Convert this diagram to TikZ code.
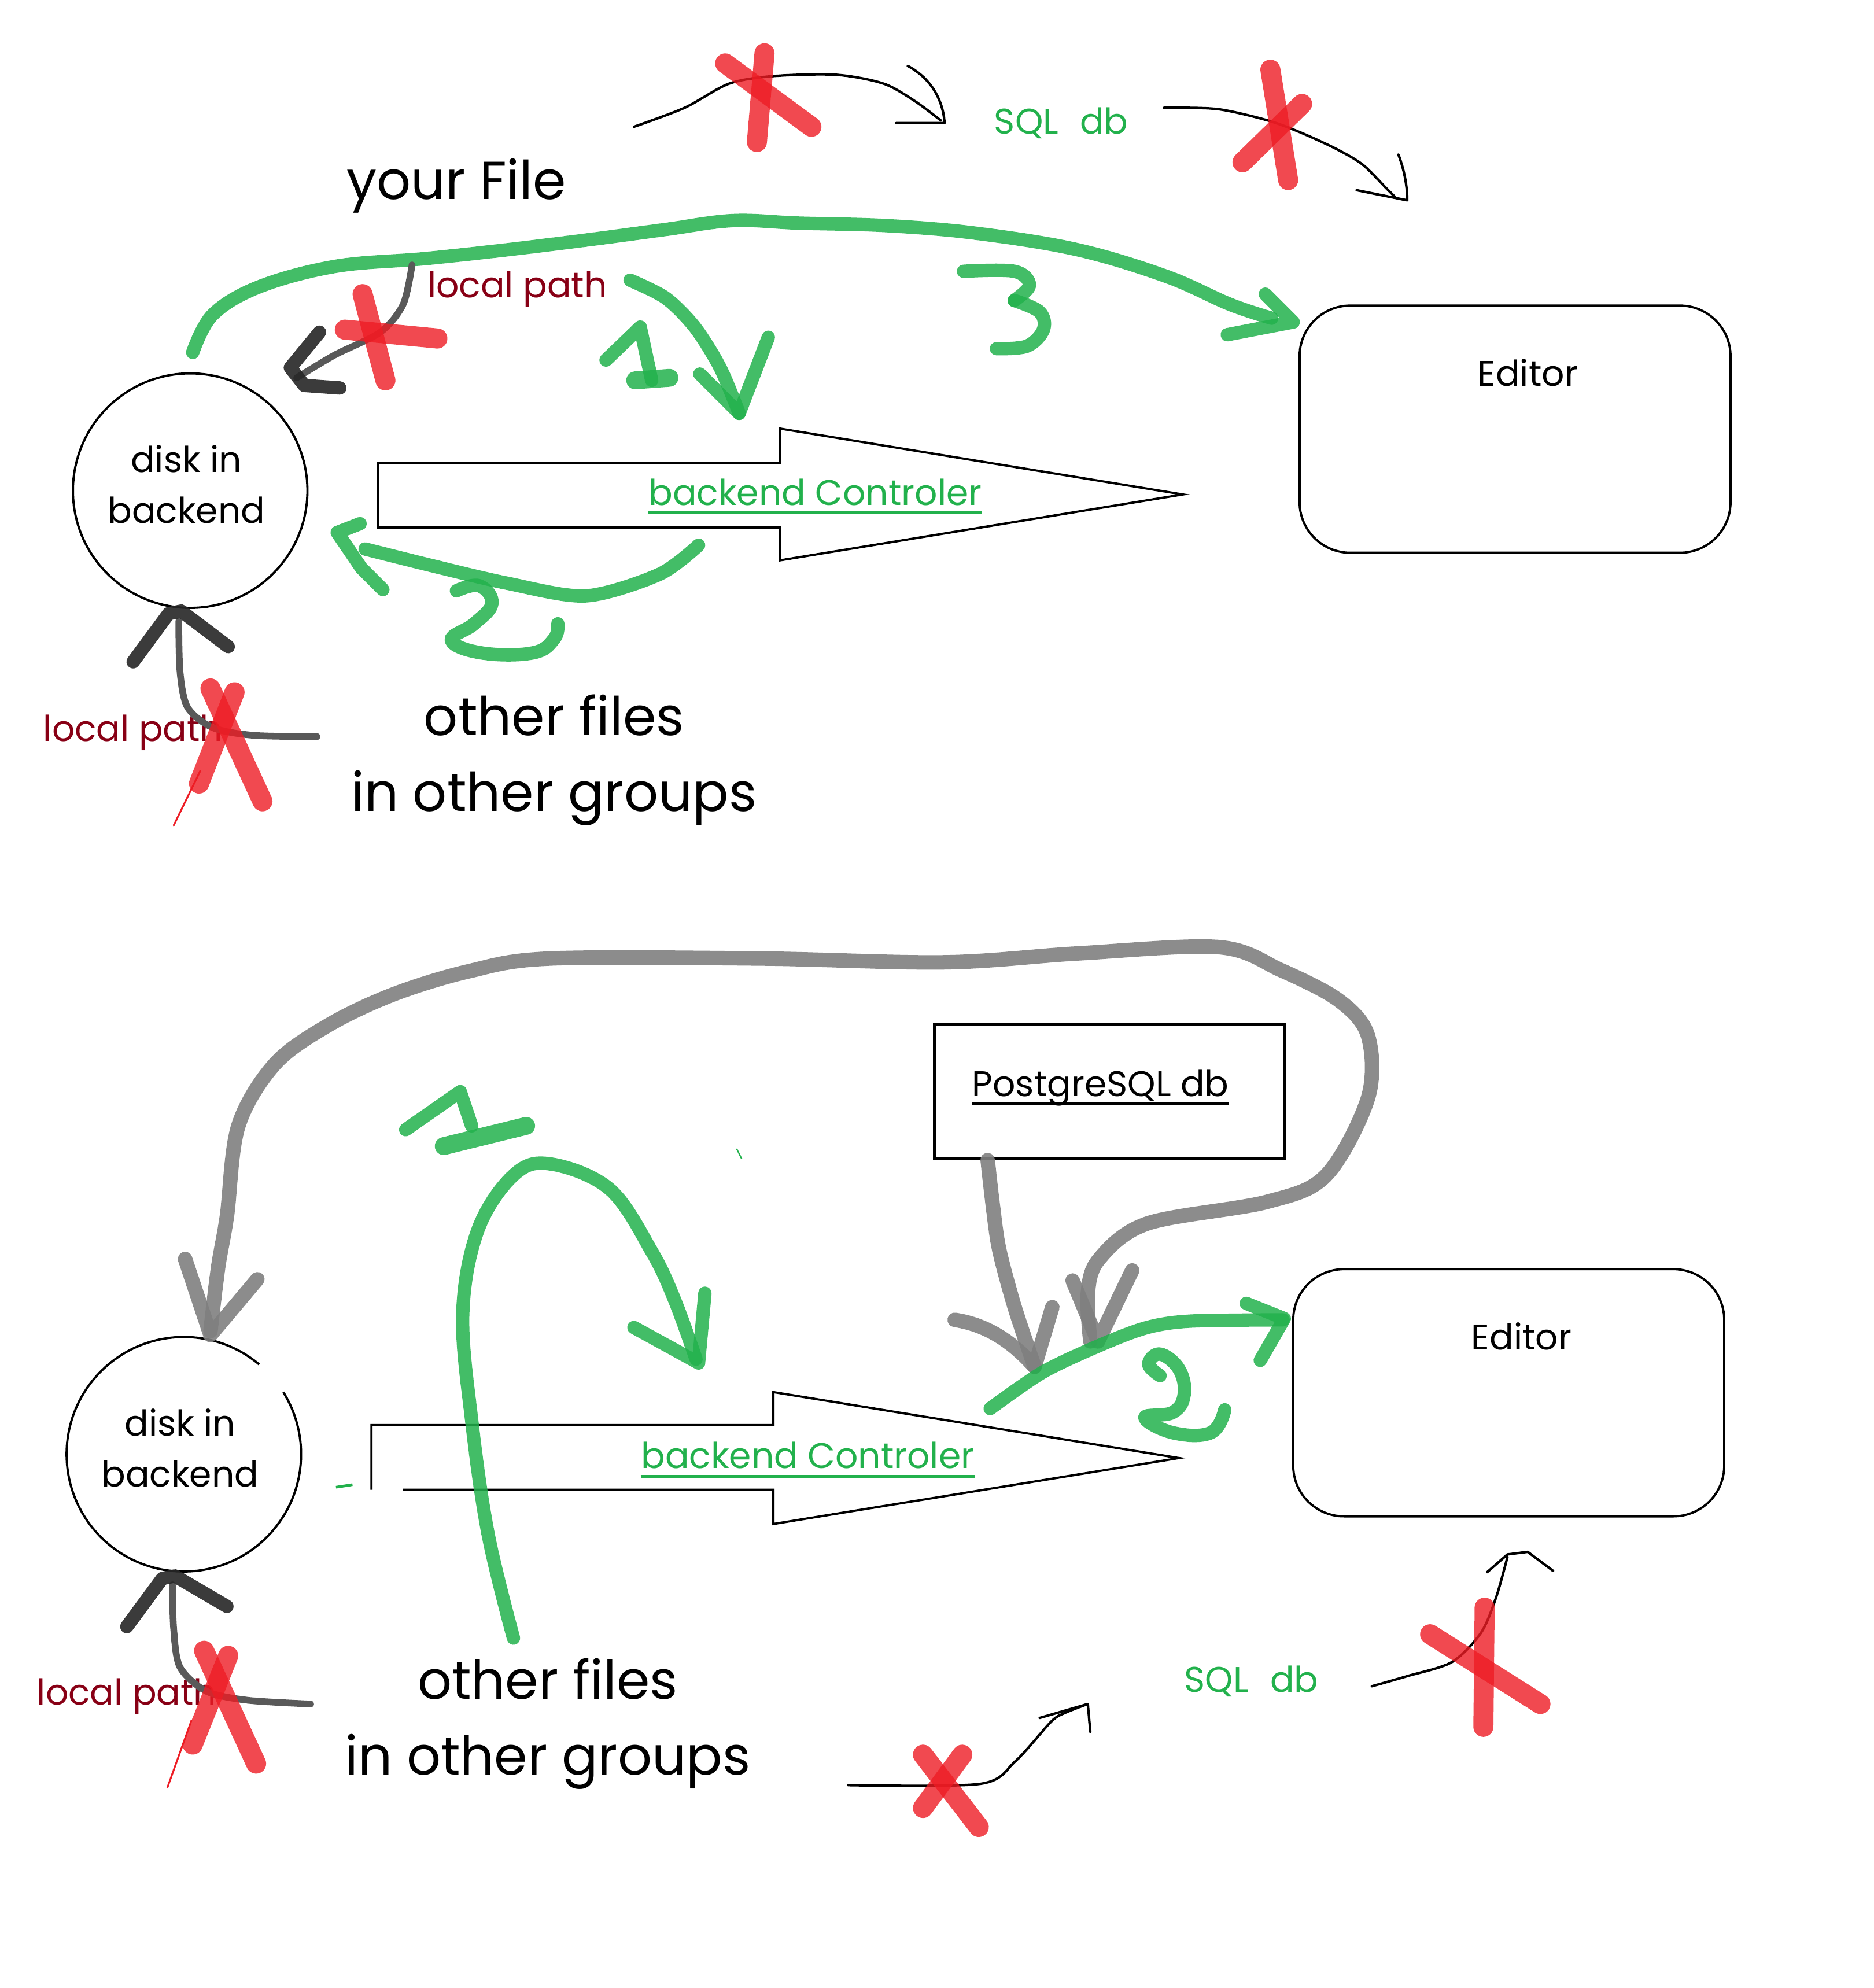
\documentclass[tikz,border=0pt]{standalone}
\usepackage{fontspec}
\setmainfont{Poppins}
\usetikzlibrary{calc}
\definecolor{pgreen}{RGB}{34,177,76}
\definecolor{pred}{RGB}{237,28,36}
\definecolor{pdark}{RGB}{136,0,21}
\definecolor{pgray}{RGB}{127,127,127}
\begin{document}
\begin{tikzpicture}[x=0.02cm,y=-0.02cm,
  gm/.style={pgreen, line width=6pt, line cap=round, line join=round, opacity=0.85},
  gy/.style={pgray, line width=6.5pt, line cap=round, line join=round, opacity=0.9},
  rx/.style={pred, line width=9pt, line cap=round, opacity=0.8},
  rthin/.style={pred, line width=0.8pt, line cap=round},
  pen/.style={black, line width=1.1pt, line cap=round, line join=round},
  blk/.style={black!85, line width=6pt, line cap=round, line join=round, opacity=0.9},
  shaft/.style={black!65, line width=3pt, line cap=round, line join=round},
  lbl/.style={font=\fontsize{16}{18}\selectfont, inner sep=0pt},
  big/.style={font=\fontsize{24}{28}\selectfont, inner sep=0pt, anchor=base},
  disk/.style={circle, minimum size=3.7cm, inner sep=0pt, outer sep=0pt},
  disktext/.style={align=center, inner sep=0pt, font=\fontsize{16}{23}\selectfont},
  editor/.style={draw, line width=1pt, rounded corners=0.8cm, minimum width=6.8cm, minimum height=3.9cm},
  outline/.style={black, line width=1pt, line join=miter},
  uline/.style={line width=1.3pt}
]
\useasboundingbox (0,0) rectangle (1478,1568);

%================ TOP HALF ================
\node[big] (yourfile) at (360,157) {your File};
\node[lbl, text=pdark] (lp1) at (408,228) {local path};
\node[lbl, text=pgreen] (sql1) at (837,97) {SQL\hspace{0.6em}db};
\node[disk, draw, line width=1pt] (disk1) at (150,387) {};
\node[disktext] (disk1t) at (147,382) {disk in\\backend};
\node[editor] (ed1) at (1195,338.5) {};
\node[lbl] (ed1t) at (1205,294) {Editor};
\node[big] (of1) at (437,580) {other files};
\node[big] (og1) at (437,640) {in other groups};
\node[lbl, text=pdark] (lp2) at (105,578) {local path};

% block arrow
\draw[outline] (298,365) -- (615,365) -- (615,338) -- (933,390) -- (615,442) -- (615,416) -- (298,416) -- cycle;
\node[lbl, text=pgreen] (bc1) at (643,388) {backend Controler};
\draw[uline, pgreen] ([yshift=-3.5pt]bc1.base west) -- ([yshift=-3.5pt]bc1.base east);

% top black scribble arrows
\coordinate (a1s) at (500,100);
\coordinate (a1e) at (742,95);
\draw[pen] plot[smooth] coordinates {(a1s) (540,85) (575,66) (610,60) (660,59) (697,66) (722,80) (a1e)};
\draw[pen] (716,52) .. controls (735,62) and (744,80) .. (745,97) -- (707,97);
\coordinate (a2s) at (918,85);
\coordinate (a2e) at (1100,155);
\draw[pen] plot[smooth] coordinates {(a2s) (960,86) (1000,95) (1027,105) (1055,118) (1075,130) (1093,148) (a2e)};
\draw[pen] (1103,122) .. controls (1108,135) and (1110,148) .. (1110,158) -- (1070,150);
\draw[rx] (603,42) -- (597,112);
\draw[rx] (572,50) -- (640,100);
\draw[rx] (1002,55) -- (1016,142);
\draw[rx] (980,128) -- (1027,82);

% green arc 3 to editor
\coordinate (g3s) at (152,278);
\coordinate (g3e) at (1003,251);
\draw[gm] plot[smooth, tension=0.6] coordinates {(g3s) (168,248) (205,226) (265,210) (335,204) (400,197) (465,189) (525,181) (578,174) (630,176) (700,178) (770,184) (850,197) (920,218) (970,240) (g3e)};
\draw[gm] (998,232) -- (1020,254) -- (968,264);
\draw[gm] plot[smooth, tension=0.6] coordinates {(760,214) (800,214) (812,225) (800,237)};
\draw[gm] plot[smooth, tension=0.6] coordinates {(800,237) (820,246) (823,260) (810,273) (786,275)};

% black arrow to disk from local path
\coordinate (b1s) at (325,209);
\draw[shaft] plot[smooth] coordinates {(b1s) (318,240) (300,262) (264,280) (234,298)};
\draw[blk] (252,262) -- (229,290) -- (240,304) -- (268,306);
\draw[rx] (286,232) -- (304,300);
\draw[rx] (272,260) -- (345,267);

% green 1 and arrow 1
\draw[gm] (478,284) -- (505,258) -- (514,300);
\draw[gm, line width=8pt] (501,300) -- (528,298);
\coordinate (g1s) at (497,221);
\coordinate (g1e) at (583,326);
\draw[gm] plot[smooth] coordinates {(g1s) (525,235) (548,258) (568,290) (g1e)};
\draw[gm] (552,295) -- (g1e) -- (606,266);

% green arrow 2 to disk
\coordinate (g2s) at (551,430);
\coordinate (g2e) at (288,433);
\draw[gm] plot[smooth] coordinates {(g2s) (520,453) (462,470) (400,460) (340,446) (g2e)};
\draw[gm] (284,413) -- (266,420) -- (285,448) -- (302,465);
\draw[gm] plot[smooth, tension=0.7] coordinates {(360,466) (378,462) (388,476) (374,492) (356,505) (380,515) (420,515) (437,504) (440,492)};

% black arrow up to disk bottom
\coordinate (b2s) at (250,581);
\draw[shaft] plot[smooth] coordinates {(b2s) (200,580) (168,574) (148,558) (142,530) (141,490)};
\draw[blk] (105,522) -- (133,484) -- (143,482) -- (180,510);
\draw[rx] (166,543) -- (207,632);
\draw[rx] (185,546) -- (157,618);
\draw[rthin] (158,608) -- (137,651);

%================ BOTTOM HALF ================
\node[disk] (disk2) at (145,1147) {};
\draw[line width=1pt] (disk2.50) arc[start angle=50, end angle=392, radius=1.85cm];
\node[disktext] (disk2t) at (142,1142) {disk in\\backend};
\node[editor] (ed2) at (1190,1098.5) {};
\node[lbl] (ed2t) at (1200,1054) {Editor};
\node[draw, line width=1.4pt, minimum width=5.52cm, minimum height=2.12cm, inner sep=0pt] (pg) at (875,861) {};
\node[lbl] (pgt) at (868,858) {PostgreSQL db};
\draw[uline] ([yshift=-3.5pt]pgt.base west) -- ([yshift=-3.5pt]pgt.base east);
\node[big] (of2) at (432,1340) {other files};
\node[big] (og2) at (432,1400) {in other groups};
\node[lbl, text=pdark] (lp3) at (100,1338) {local path};
\node[lbl, text=pgreen] (sql2) at (987,1326) {SQL\hspace{0.6em}db};

% block arrow (with gap at lower left)
\draw[outline] (293,1175) -- (293,1124) -- (610,1124) -- (610,1098) -- (930,1150) -- (610,1202) -- (610,1175) -- (318,1175);
\node[lbl, text=pgreen] (bc2) at (637,1148) {backend Controler};
\draw[uline, pgreen] ([yshift=-3.5pt]bc2.base west) -- ([yshift=-3.5pt]bc2.base east);
\draw[pgreen, line width=1.2pt] (265,1173) -- (278,1171);
\draw[pgreen, line width=0.6pt] (581,906) -- (585,914);

% gray big loop arrow (to disk and to green line)
\coordinate (gyl) at (166,1050);
\coordinate (gyr) at (860,1058);
\draw[gy] plot[smooth, tension=0.55] coordinates {(gyl) (172,1000) (179,959) (188,888) (217,839) (260,808) (311,784) (370,766) (434,756) (600,756) (745,759) (850,752) (961,747) (1010,765) (1056,789) (1079,817) (1079,866) (1046,927) (999,948) (905,965) (867,993) (858,1020) (gyr)};
\draw[gy] (146,993) -- (166,1053) -- (203,1009);
\draw[gy] (846,1010) -- (866,1058) -- (893,1002);
% gray arrow from PostgreSQL
\coordinate (gps) at (779,915);
\coordinate (gpe) at (816,1078);
\draw[gy] plot[smooth] coordinates {(gps) (783,950) (788,985) (800,1030) (gpe)};
\draw[gy] (753,1041) .. controls (780,1045) and (800,1060) .. (gpe) -- (830,1031);

% green line to editor 2
\coordinate (gls) at (781,1111);
\coordinate (gle) at (1012,1041);
\draw[gm] plot[smooth] coordinates {(gls) (823,1082) (870,1060) (905,1047) (939,1042) (gle)};
\draw[gm] (983,1028) -- (1013,1040) -- (994,1073);
\draw[gm] plot[smooth, tension=0.7] coordinates {(915,1085) (906,1076) (915,1068) (930,1080) (934,1100) (925,1114) (903,1118) (925,1130) (955,1130) (966,1112)};

% green 1 and arc
\draw[gm] (320,891) -- (363,861) -- (372,888);
\draw[gm, line width=8pt] (350,904) -- (415,888);
\coordinate (gas) at (405,1292);
\coordinate (gae) at (549,1072);
\draw[gm] plot[smooth, tension=0.6] coordinates {(gas) (385,1210) (372,1120) (365,1036) (377,970) (405,927) (434,918) (481,938) (514,987) (532,1025) (gae)};
\draw[gm] (500,1047) -- (551,1075) -- (556,1020);

% black arrow up to disk2 bottom
\coordinate (b3s) at (245,1344);
\draw[shaft] plot[smooth] coordinates {(b3s) (195,1341) (163,1334) (142,1315) (137,1285) (136,1250)};
\draw[blk] (100,1283) -- (128,1245) -- (138,1243) -- (179,1267);
\draw[rx] (161,1302) -- (202,1391);
\draw[rx] (180,1306) -- (152,1376);
\draw[rthin] (151,1357) -- (132,1410);

% bottom black scribble arrows
\coordinate (a3s) at (1082,1330);
\coordinate (a3e) at (1189,1228);
\draw[pen] plot[smooth] coordinates {(a3s) (1110,1322) (1145,1311) (1168,1288) (1180,1260) (a3e)};
\draw[pen] (1173,1240) -- (1189,1226) -- (1205,1224) -- (1225,1239);
\draw[rx] (1171,1268) -- (1170,1362);
\draw[rx] (1128,1289) -- (1215,1344);
\coordinate (a4s) at (669,1408);
\coordinate (a4e) at (858,1344);
\draw[pen] plot[smooth] coordinates {(a4s) (773,1407) (801,1389) (829,1358) (840,1351) (a4e)};
\draw[pen] (820,1355) -- (a4e) -- (860,1366);
\draw[rx] (728,1384) -- (772,1441);
\draw[rx] (759,1384) -- (728,1426);
\end{tikzpicture}
\end{document}
